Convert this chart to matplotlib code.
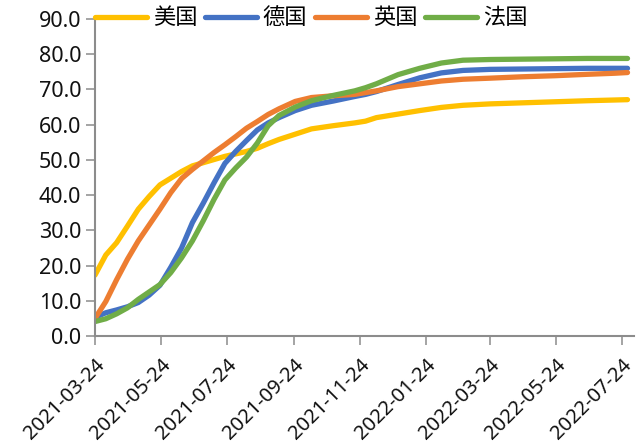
import pandas as pd
import matplotlib
matplotlib.use("Agg")
import matplotlib.pyplot as plt
import matplotlib.dates as mdates
from matplotlib.ticker import FormatStrFormatter

plt.rcParams['font.family'] = ['Noto Sans', 'Noto Sans CJK SC', 'DejaVu Sans']

# 日期
dates = pd.to_datetime([
    "2021-03-24", "2021-04-03", "2021-04-13", "2021-04-23", "2021-05-03",
    "2021-05-13", "2021-05-23", "2021-06-02", "2021-06-12", "2021-06-22",
    "2021-07-02", "2021-07-12", "2021-07-22", "2021-08-01", "2021-08-11",
    "2021-08-21", "2021-08-31", "2021-09-10", "2021-09-25", "2021-10-10",
    "2021-10-30", "2021-11-19", "2021-11-29", "2021-12-09", "2021-12-29",
    "2022-01-18", "2022-02-07", "2022-02-27", "2022-03-24", "2022-04-23",
    "2022-05-23", "2022-06-22", "2022-07-17", "2022-07-29",
])

usa = [17.3, 23.0, 26.5, 31.2, 36.0, 39.6, 42.9, 44.8, 46.7, 48.3,
       49.2, 50.1, 51.0, 51.7, 52.4, 53.3, 54.6, 55.8, 57.3, 58.8,
       59.7, 60.5, 61.0, 62.0, 63.0, 64.0, 64.9, 65.5, 65.9, 66.2,
       66.5, 66.8, 67.0, 67.1]
germany = [5.3, 6.6, 7.4, 8.3, 9.5, 11.6, 14.4, 19.5, 25.0, 32.2,
           37.7, 43.5, 49.0, 52.4, 55.5, 58.5, 60.5, 62.0, 64.0, 65.5,
           66.7, 68.0, 68.6, 69.4, 71.4, 73.3, 74.7, 75.4, 75.7, 75.8,
           75.9, 76.0, 76.0, 76.0]
uk = [5.0, 9.8, 16.0, 21.8, 27.0, 31.5, 36.0, 40.7, 44.7, 47.3,
      49.7, 52.1, 54.3, 56.6, 59.0, 60.9, 62.9, 64.5, 66.6, 67.7,
      68.2, 68.6, 69.1, 69.6, 70.8, 71.6, 72.4, 72.9, 73.2, 73.6,
      73.9, 74.3, 74.6, 74.8]
france = [4.1, 4.9, 6.3, 8.0, 10.4, 12.5, 14.6, 18.0, 22.2, 27.0,
          32.7, 38.8, 44.3, 47.7, 50.8, 54.8, 59.7, 62.6, 65.0, 66.8,
          68.3, 69.6, 70.5, 71.6, 74.2, 76.0, 77.5, 78.3, 78.5, 78.6,
          78.7, 78.8, 78.8, 78.8]

tick_dates = pd.to_datetime([
    "2021-03-24", "2021-05-24", "2021-07-24", "2021-09-24", "2021-11-24",
    "2022-01-24", "2022-03-24", "2022-05-24", "2022-07-24",
])

fig = plt.figure(figsize=(6.39, 4.48), dpi=100)
ax = fig.add_axes([95 / 639, 1 - 336 / 448, (634 - 95) / 639, (336 - 19) / 448])

series = [("美国", usa, "#FFC000"), ("德国", germany, "#4472C4"),
          ("英国", uk, "#ED7D31"), ("法国", france, "#70AD47")]
for name, vals, c in series:
    ax.plot(dates, vals, color=c, lw=3.8, solid_capstyle='round',
            solid_joinstyle='round', label=name)

ax.set_ylim(0, 90)
ax.set_yticks(range(0, 91, 10))
ax.yaxis.set_major_formatter(FormatStrFormatter('%.1f'))
ax.set_xlim(pd.Timestamp("2021-03-24"), pd.Timestamp("2022-08-04"))
ax.set_xticks(tick_dates)
ax.xaxis.set_major_formatter(mdates.DateFormatter('%Y-%m-%d'))

for s in ['top', 'right']:
    ax.spines[s].set_visible(False)
for s in ['left', 'bottom']:
    ax.spines[s].set_color('#8c8c8c')
    ax.spines[s].set_linewidth(1.5)

ax.tick_params(axis='both', direction='out', length=6.5, width=1.1,
               color='#8c8c8c', labelsize=15.5, labelcolor='#111111')
ax.tick_params(axis='y', pad=3.5)
ax.tick_params(axis='x', pad=7, labelsize=14.5)
for lab in ax.get_xticklabels():
    lab.set_rotation(45)
    lab.set_ha('right')
    lab.set_va('top')
    lab.set_rotation_mode('anchor')

leg = ax.legend(loc='center left', bbox_to_anchor=(0, 1.0), ncol=4,
                frameon=False, fontsize=16, borderpad=0, borderaxespad=0,
                handlelength=2.35, handletextpad=0.25, columnspacing=0.35)
for line in leg.get_lines():
    line.set_linewidth(3.8)

fig.savefig("out.png", dpi=100, facecolor='white')
